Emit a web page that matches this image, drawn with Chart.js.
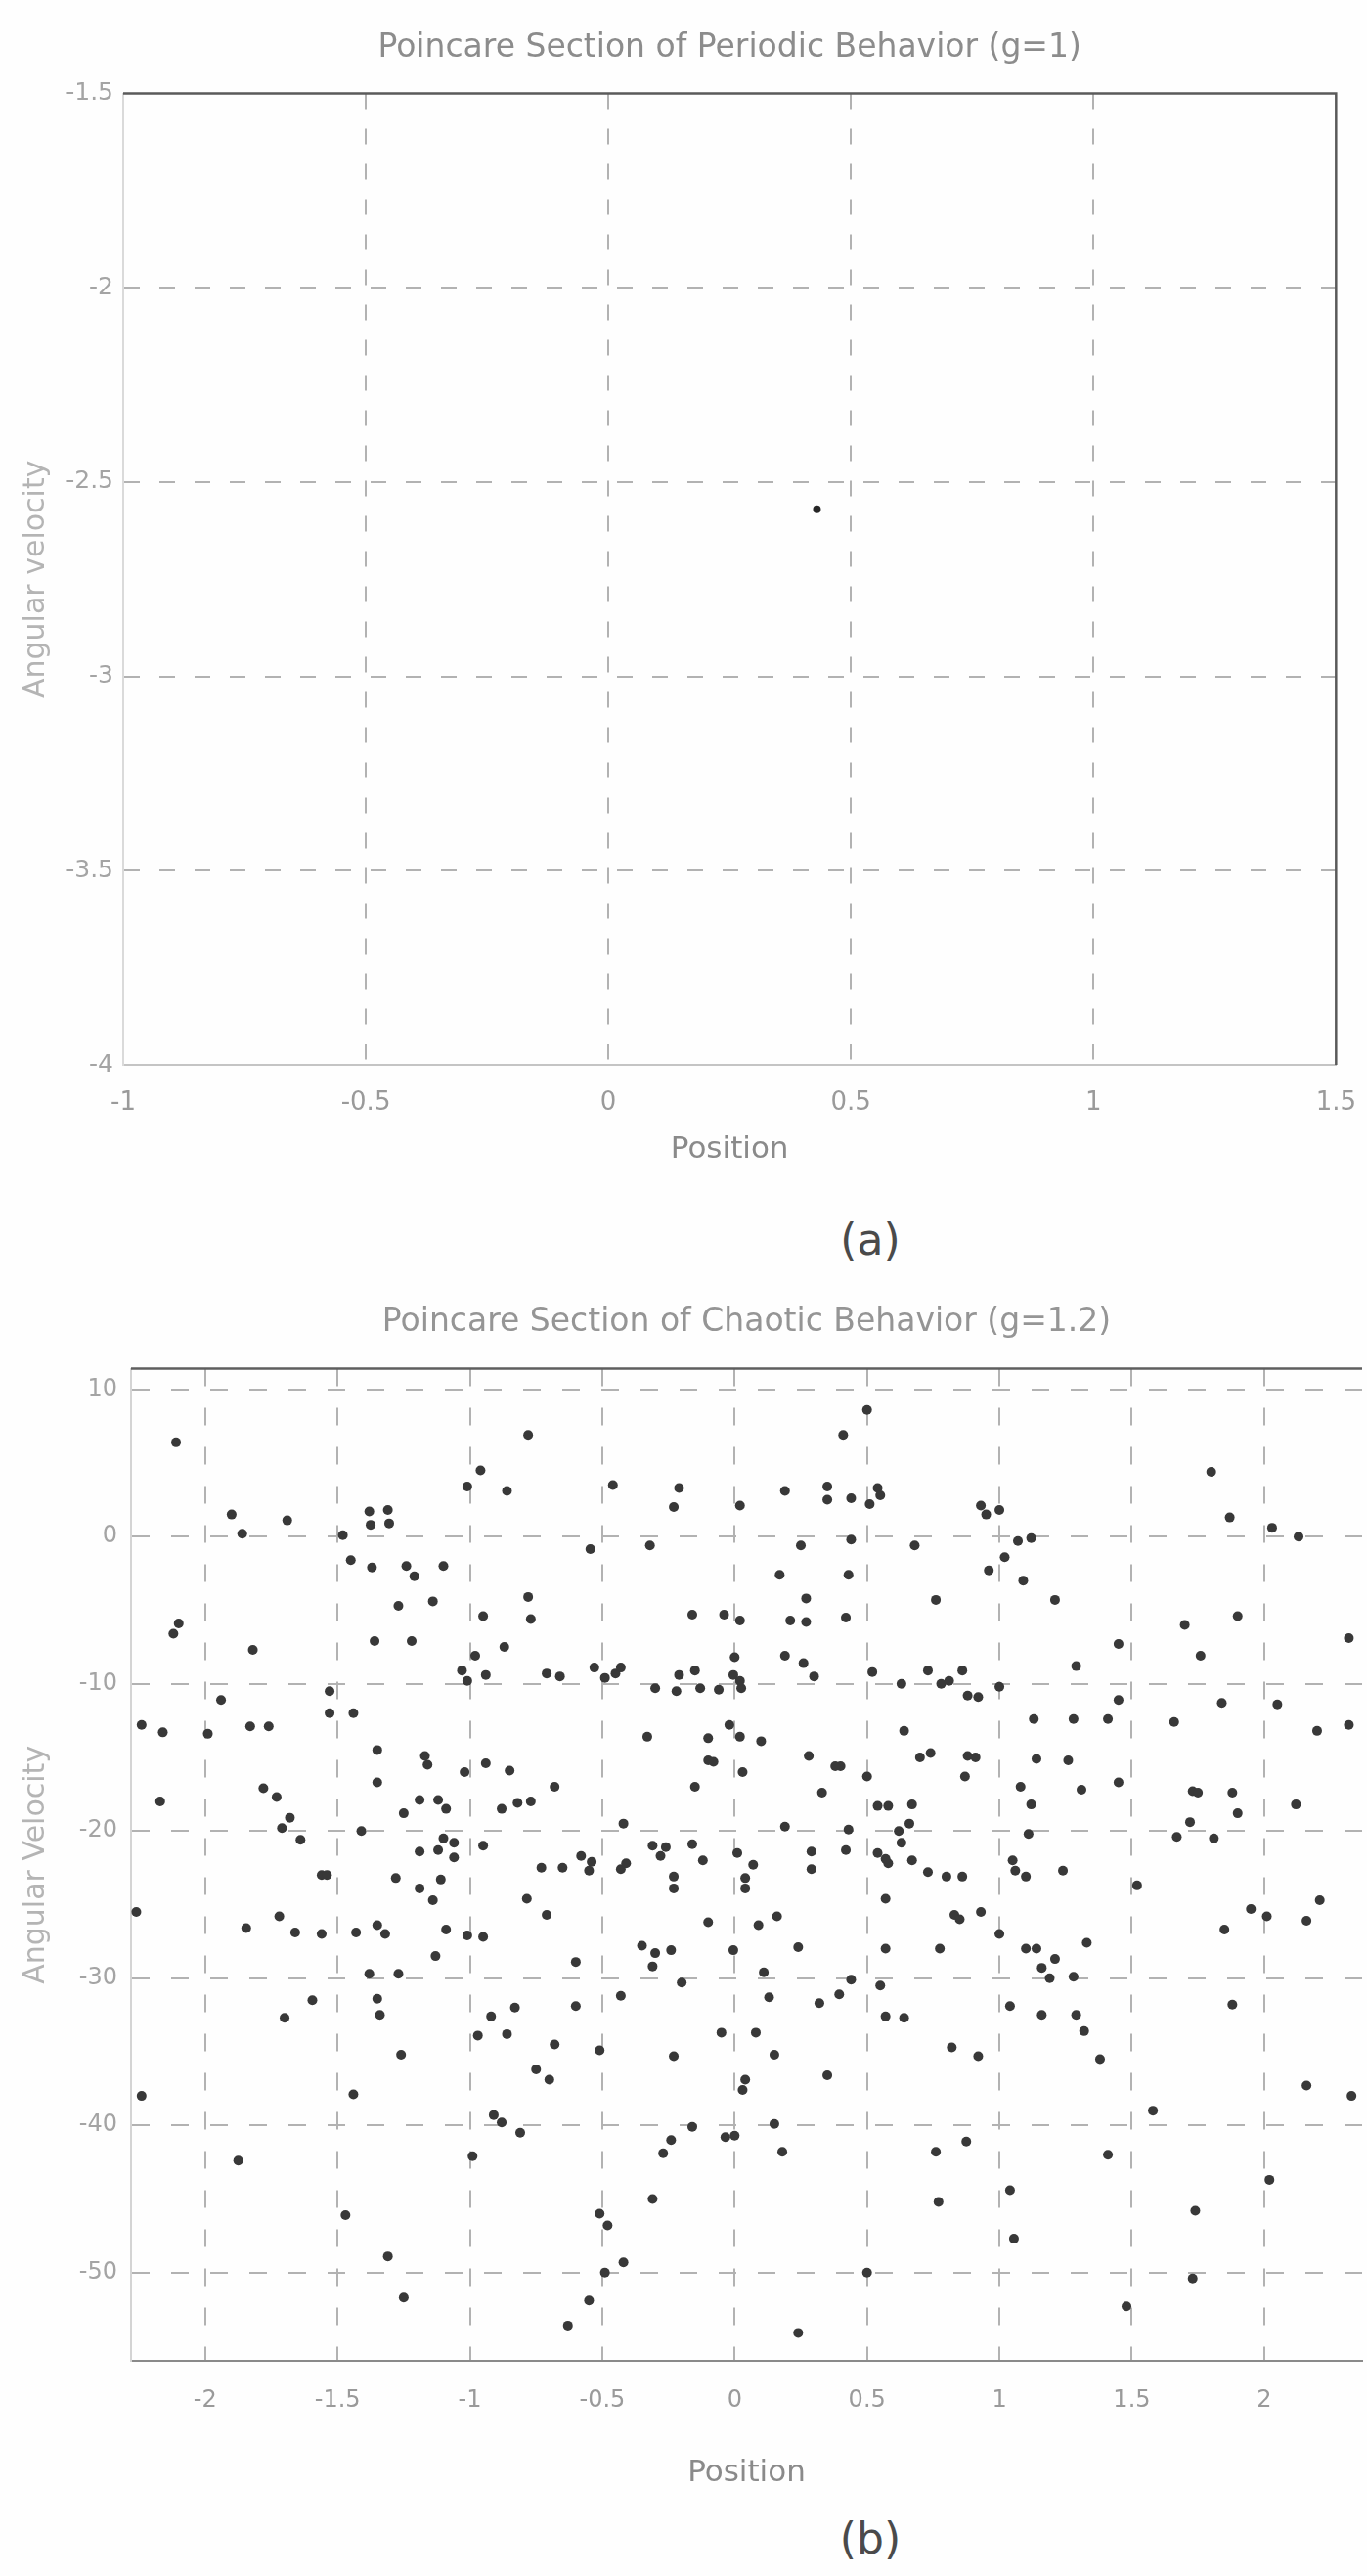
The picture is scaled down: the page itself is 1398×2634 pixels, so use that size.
<!DOCTYPE html>
<html>
<head>
<meta charset="utf-8">
<title>Poincare sections</title>
<script src="https://cdn.jsdelivr.net/npm/chart.js@4.4.1/dist/chart.umd.min.js"></script>
<style>
  html, body { margin: 0; padding: 0; background: #fefefe; overflow: hidden; }
  body { position: relative; width: 1398px; height: 2634px; font-family: "DejaVu Sans", Arial, sans-serif; }
  #wrapA { position: absolute; left: 0; top: 0; width: 1411px; height: 1197px; }
  #wrapB { position: absolute; left: 0; top: 1290px; width: 1398px; height: 1261px; }
  .caption { position: absolute; width: 200px; text-align: center; font-size: 44px; line-height: 1; color: #4a4a4a; }
</style>
</head>
<body>
<div id="wrapA"><canvas id="chartA"></canvas></div>
<div class="caption" style="left:790px; top:1246px;">(a)</div>
<div id="wrapB"><canvas id="chartB"></canvas></div>
<div class="caption" style="left:790px; top:2574px;">(b)</div>

<script>
// (a) periodic motion: one fixed point on the section
var periodicX = [0.43];
var periodicY = [-2.57];
var xTicksA = [-1, -0.5, 0, 0.5, 1, 1.5];
var yTicksA = [-4, -3.5, -3, -2.5, -2, -1.5];

// (b) chaotic motion: scattered section points (position, angular velocity)
var chaoticX = [
  -2.11, -0.78, -0.96, -1.01, -0.86, -1.90, -1.86, -1.69, -1.38, -1.375,
  -1.31, -1.305, -1.48, -1.45, -1.37, -1.24, -1.21, -1.10, -1.27, -1.14,
  -0.78, -0.95, -0.77, -2.12, -2.10, -1.82, -1.36, -1.22, -0.98, -0.87,
  -1.03, -1.01, -0.94, -0.71, -1.53, -1.94, -1.53, -1.44, -2.24, -2.16,
  -1.99, -1.83, -1.76, -1.35, -1.17, -1.16, -0.94, -0.85, -1.02, -1.35,
  -1.78, -1.73, -2.17, -1.19, -1.12, -1.09, -1.25, -0.88, -0.82, -0.77,
  -0.68, -1.68, -1.71, -1.64, -1.41, -1.19, -1.12, -1.10, -1.06, -1.06,
  -0.95, -1.56, -1.54, -1.28, -1.19, -1.11, -0.73,

  0.50, 0.41, -0.46, -0.21, -0.23, 0.02, 0.19, 0.35, 0.35, 0.44,
  0.54, 0.51, 0.55, -0.545, -0.32, 0.25, 0.44, 0.68, 0.17, 0.43,
  0.27, 0.76, -0.16, -0.04, 0.02, 0.0, 0.21, 0.27, 0.42, 0.19,
  0.26, 0.30, -0.66, -0.53, -0.49, -0.45, -0.43, -0.30, -0.21, -0.22,
  -0.15, -0.13, -0.06, -0.005, 0.025, 0.02, 0.52, 0.63, 0.73, 0.78,
  0.81, 0.86, 0.88, -0.33, -0.10, -0.02, 0.02, 0.10, -0.08, -0.10,
  0.03, 0.28, 0.40, 0.38, 0.50, 0.64, 0.70, 0.74, 0.88, 0.87,
  -0.15, 0.33, 0.54, 0.58, 0.67, -0.42, 0.19, 0.43, 0.62, 0.63,
  0.66, 0.54, 0.58, 0.57, 0.67, 0.73, 0.80, 0.86, -0.65, -0.58,
  -0.54, -0.55, -0.43, -0.41, -0.31, -0.28, -0.26, -0.23, -0.23, -0.16,
  -0.12, 0.01, 0.07, 0.04, 0.04, 0.29, 0.29, 0.42,

  1.80, 1.87, 2.03, 2.13, 0.93, 0.95, 1.00, 1.07, 1.12, 1.02,
  0.96, 1.09, 1.21, 1.90, 1.70, 2.32, 1.45, 1.76, 1.29, 1.00,
  0.92, 1.45, 1.13, 1.28, 1.41, 1.66, 1.84, 2.05, 2.20, 2.32,
  0.91, 1.14, 1.26, 1.08, 1.12, 1.31, 1.45, 1.73, 1.75, 1.88,
  1.90, 2.12, 1.72, 1.67, 1.81, 1.11, 1.05, 1.06, 1.10, 1.24,
  1.52,

  -2.26, -1.845, -1.72, -1.66, -1.56, -1.43, -1.35, -1.32, -1.14, -1.09,
  -1.01, -0.95, -0.785, -0.71, -1.13, -1.38, -1.27, -1.595, -1.70, -1.35,
  -1.34, -0.92, -0.83, -0.97, -0.86, -1.26, -0.75, -0.70, -2.24, -1.44,
  -0.91, -0.88, -0.81, -1.875, -0.99, -1.47, -1.31, -1.25,

  -0.10, 0.09, 0.16, 0.57, 0.83, 0.85, -0.60, -0.35, -0.30, -0.24,
  -0.31, -0.005, 0.24, 0.57, 0.775, 0.11, -0.20, -0.43, -0.60, 0.13,
  0.32, 0.395, 0.44, 0.55, 0.57, 0.64, -0.68, -0.51, -0.23, -0.05,
  0.08, 0.15, 0.82, 0.04, 0.03, 0.35, -0.16, -0.24, -0.27, -0.035,
  0.0, 0.15, 0.18, 0.76, 0.875, -0.31, 0.77, -0.51, -0.48, -0.42,
  -0.49, -0.55, -0.63, 0.50, 0.24,

  0.93, 1.00, 1.10, 1.14, 1.21, 1.33, 1.16, 1.19, 1.28, 1.04,
  1.16, 1.29, 1.32, 0.92, 1.38, 1.85, 1.95, 2.01, 2.16, 2.21,
  1.88, 2.16, 2.33, 1.58, 1.41, 1.04, 2.02, 1.74, 1.055, 1.73,
  1.48
];
var chaoticY = [
  6.4, 6.9, 4.5, 3.4, 3.1, 1.5, 0.2, 1.1, 1.7, 0.8,
  1.8, 0.9, 0.1, -1.6, -2.1, -2.0, -2.7, -2.0, -4.7, -4.4,
  -4.1, -5.4, -5.6, -6.6, -5.9, -7.7, -7.1, -7.1, -8.1, -7.5,
  -9.1, -9.8, -9.4, -9.3, -10.5, -11.1, -12.0, -12.0, -12.8, -13.3,
  -13.4, -12.9, -12.9, -14.5, -14.9, -15.5, -15.4, -15.9, -16.0, -16.7,
  -17.1, -17.7, -18.0, -17.9, -17.9, -18.5, -18.8, -18.5, -18.1, -18.0,
  -17.0, -19.1, -19.8, -20.6, -20.0, -21.4, -21.3, -20.5, -20.8, -21.8,
  -21.0, -23.0, -23.0, -23.2, -23.9, -23.3, -22.5,

  8.6, 6.9, 3.5, 3.3, 2.0, 2.1, 3.1, 3.4, 2.5, 2.6,
  3.3, 2.2, 2.8, -0.85, -0.6, -0.6, -0.2, -0.6, -2.6, -2.6,
  -4.2, -4.3, -5.3, -5.3, -5.7, -8.2, -5.7, -5.8, -5.5, -8.1,
  -8.6, -9.5, -9.5, -8.9, -9.6, -9.3, -8.9, -10.3, -9.4, -10.5,
  -9.1, -10.3, -10.4, -9.4, -10.3, -9.8, -9.2, -10.0, -9.1, -10.0,
  -9.8, -9.1, -10.8, -13.6, -13.7, -12.8, -13.6, -13.9, -15.3, -15.2,
  -16.0, -14.9, -15.6, -15.6, -16.3, -13.2, -15.0, -14.7, -14.9, -16.3,
  -17.0, -17.4, -18.3, -18.3, -18.2, -19.5, -19.7, -19.9, -20.0, -20.8,
  -19.5, -21.5, -22.2, -21.9, -22.0, -22.8, -23.1, -23.1, -22.5, -21.7,
  -22.1, -22.7, -22.6, -22.2, -21.0, -21.7, -21.1, -23.1, -23.9, -20.9,
  -22.0, -21.5, -22.3, -23.2, -23.9, -21.4, -22.6, -21.3,

  4.4, 1.3, 0.6, 0.0, 2.1, 1.5, 1.8, -0.3, -0.1, -1.4,
  -2.3, -3.0, -4.3, -5.4, -6.0, -6.9, -7.3, -8.1, -8.8, -10.2,
  -10.9, -11.1, -12.4, -12.4, -12.4, -12.6, -11.3, -11.4, -13.2, -12.8,
  -15.0, -15.1, -15.2, -17.0, -18.2, -17.2, -16.7, -17.3, -17.4, -17.4,
  -18.8, -18.2, -19.4, -20.4, -20.5, -20.2, -22.0, -22.7, -23.1, -22.7,
  -23.7,

  -25.5, -26.6, -25.8, -26.9, -27.0, -26.9, -26.4, -27.0, -24.7, -26.7,
  -27.1, -27.2, -24.6, -25.7, -28.5, -29.7, -29.7, -31.5, -32.7, -31.4,
  -32.5, -32.6, -32.0, -33.9, -33.8, -35.2, -36.2, -36.9, -38.0, -37.9,
  -39.3, -39.8, -40.5, -42.4, -42.1, -46.1, -48.9, -51.7,

  -26.2, -26.4, -25.8, -24.6, -25.7, -26.0, -28.9, -27.8, -28.3, -28.1,
  -29.2, -28.1, -27.9, -28.0, -28.0, -29.6, -30.3, -31.2, -31.9, -31.3,
  -31.7, -31.1, -30.1, -30.5, -32.6, -32.7, -34.5, -34.9, -35.3, -33.7,
  -33.7, -35.2, -34.7, -36.9, -37.6, -36.6, -40.1, -41.0, -41.9, -40.8,
  -40.7, -39.9, -41.8, -41.8, -41.1, -45.0, -45.2, -46.0, -46.8, -49.3,
  -50.0, -51.9, -53.6, -50.0, -54.1,

  -25.5, -27.0, -28.0, -28.0, -28.7, -27.6, -29.3, -30.0, -29.9, -31.9,
  -32.5, -32.5, -33.6, -35.3, -35.5, -26.7, -25.3, -25.8, -26.1, -24.7,
  -31.8, -37.3, -38.0, -39.0, -42.0, -44.4, -43.7, -45.8, -47.7, -50.4,
  -52.3
];
var xTicksB = [-2, -1.5, -1, -0.5, 0, 0.5, 1, 1.5, 2];
var yTicksB = [-50, -40, -30, -20, -10, 0, 10];

Chart.defaults.font.family = '"DejaVu Sans", "Liberation Sans", Arial, sans-serif';

function toPoints(xs, ys) {
  return xs.map(function (x, i) { return { x: x, y: ys[i] }; });
}

// use the listed tick values as they are
function fixedTicks(list) {
  return function (scale) {
    scale.ticks = list.map(function (v) { return { value: v }; });
  };
}

// hide the grid line that sits on the axis box edge
function gridColor(min, max, color) {
  return function (ctx) {
    if (!ctx.tick) return color;
    var v = ctx.tick.value;
    if (Math.abs(v - min) < 1e-9 || Math.abs(v - max) < 1e-9) return 'rgba(0,0,0,0)';
    return color;
  };
}

// matlab style box: top edge and (optionally) right edge
var framePlugin = {
  id: 'frame',
  afterDraw: function (chart, args, opts) {
    var a = chart.chartArea;
    var c = chart.ctx;
    c.save();
    c.strokeStyle = opts.color;
    c.lineWidth = opts.width;
    c.beginPath();
    c.moveTo(a.left, a.top);
    c.lineTo(a.right, a.top);
    if (opts.right) c.lineTo(a.right, a.bottom);
    c.stroke();
    c.restore();
  }
};

var chartA = new Chart(document.getElementById('chartA'), {
  type: 'scatter',
  data: {
    datasets: [{
      data: toPoints(periodicX, periodicY),
      backgroundColor: '#262626',
      borderWidth: 0,
      pointRadius: 4
    }]
  },
  options: {
    responsive: true,
    maintainAspectRatio: false,
    animation: false,
    layout: { padding: { top: 0, right: 20, bottom: 0, left: 0 } },
    plugins: {
      legend: { display: false },
      tooltip: { enabled: false },
      title: {
        display: true,
        fullSize: false,
        text: 'Poincare Section of Periodic Behavior (g=1)',
        color: '#8c8c8c',
        font: { size: 33, weight: 'normal' },
        padding: { top: 30, bottom: 26 }
      },
      frame: { color: '#5a5a5a', width: 2.5, right: true }
    },
    scales: {
      x: {
        type: 'linear',
        min: -1,
        max: 1.5,
        afterBuildTicks: fixedTicks(xTicksA),
        afterFit: function (s) { s.height = 108; },
        ticks: { color: '#9a9a9a', font: { size: 26 }, padding: 24, maxRotation: 0, autoSkip: false,
                 callback: function (v) { return String(v); } },
        grid: { color: gridColor(-1, 1.5, '#b2b2b2'), lineWidth: 2, drawTicks: false },
        border: { display: true, color: '#c4c4c4', width: 2, dash: [16, 20] },
        title: { display: true, text: 'Position', color: '#8a8a8a', font: { size: 31 }, padding: { top: 0, bottom: 2 } }
      },
      y: {
        type: 'linear',
        min: -4,
        max: -1.5,
        afterBuildTicks: fixedTicks(yTicksA),
        afterFit: function (s) { s.width = 126; },
        ticks: { color: '#a4a4a4', font: { size: 25 }, padding: 10, autoSkip: false,
                 callback: function (v) { return String(v); } },
        grid: { color: gridColor(-4, -1.5, '#b2b2b2'), lineWidth: 2, drawTicks: false },
        border: { display: true, color: '#dadada', width: 2, dash: [16, 20] },
        title: { display: true, text: 'Angular velocity', color: '#b4b4b4', font: { size: 30 }, padding: { top: 19, bottom: 0 } }
      }
    }
  },
  plugins: [framePlugin]
});

var chartB = new Chart(document.getElementById('chartB'), {
  type: 'scatter',
  data: {
    datasets: [{
      data: toPoints(chaoticX, chaoticY),
      backgroundColor: '#383838',
      borderWidth: 0,
      pointRadius: 5
    }]
  },
  options: {
    responsive: true,
    maintainAspectRatio: false,
    animation: false,
    layout: { padding: { top: 0, right: 0, bottom: 0, left: 0 } },
    plugins: {
      legend: { display: false },
      tooltip: { enabled: false },
      title: {
        display: true,
        fullSize: false,
        text: 'Poincare Section of Chaotic Behavior (g=1.2)',
        color: '#959595',
        font: { size: 33, weight: 'normal' },
        padding: { top: 43, bottom: 27 }
      },
      frame: { color: '#5e5e5e', width: 2.5, right: false }
    },
    scales: {
      x: {
        type: 'linear',
        min: -2.28,
        max: 2.37,
        afterBuildTicks: fixedTicks(xTicksB),
        afterFit: function (s) { s.height = 137; },
        ticks: { color: '#9a9a9a', font: { size: 24 }, padding: 26, maxRotation: 0, autoSkip: false,
                 callback: function (v) { return String(v); } },
        grid: { color: '#b2b2b2', lineWidth: 2, drawTicks: false },
        border: { display: true, color: '#8a8a8a', width: 2, dash: [18, 22] },
        title: { display: true, text: 'Position', color: '#8a8a8a', font: { size: 31 }, padding: { top: 0, bottom: 3 } }
      },
      y: {
        type: 'linear',
        min: -56,
        max: 11.4,
        afterBuildTicks: fixedTicks(yTicksB),
        afterFit: function (s) { s.width = 134; },
        ticks: { color: '#a4a4a4', font: { size: 24 }, padding: 14, autoSkip: false,
                 callback: function (v) { return String(v); } },
        grid: { color: '#b2b2b2', lineWidth: 2, drawTicks: false },
        border: { display: true, color: '#d4d4d4', width: 2, dash: [18, 22] },
        title: { display: true, text: 'Angular Velocity', color: '#b4b4b4', font: { size: 30 }, padding: { top: 19, bottom: 0 } }
      }
    }
  },
  plugins: [framePlugin]
});
</script>
</body>
</html>
